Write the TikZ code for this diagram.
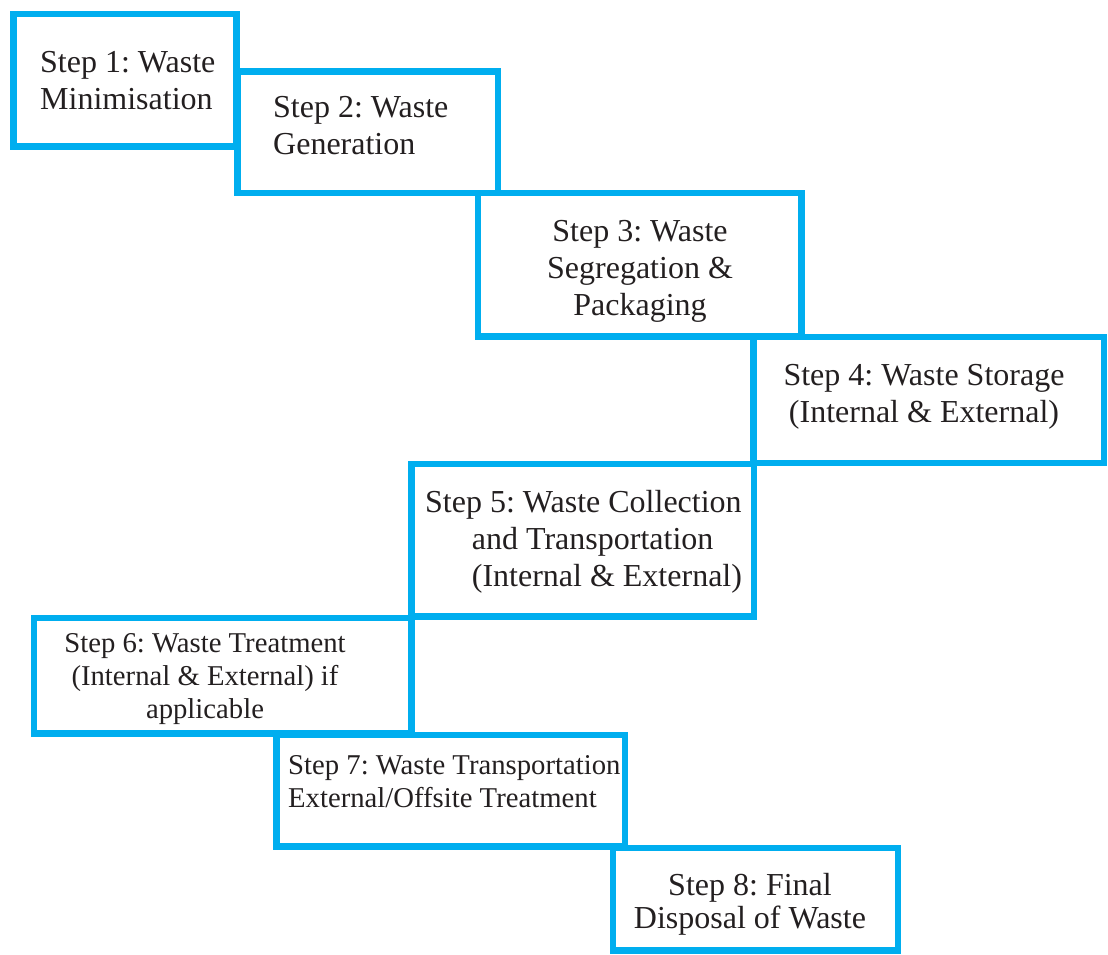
\documentclass[tikz,border=0pt]{standalone}
\usepackage{fontspec}
\setmainfont{Liberation Serif}
\frenchspacing
\definecolor{stepcyan}{RGB}{0,174,239}
\definecolor{txt}{RGB}{35,31,32}
\tikzset{
  stepbox/.style={draw=stepcyan, line width=6.5pt, inner sep=0pt, outer sep=0pt, rectangle},
  big/.style={font=\fontsize{32}{37}\selectfont, text=txt, inner sep=0pt},
  bigtight/.style={font=\fontsize{32}{33}\selectfont, text=txt, inner sep=0pt},
  small/.style={font=\fontsize{28.7}{33}\selectfont, text=txt, inner sep=0pt},
}
\begin{document}
\begin{tikzpicture}[x=1pt,y=-1pt]
\useasboundingbox (0,0) rectangle (1108,954);
\node[stepbox, minimum width=223pt, minimum height=132.5pt] (b1) at (125,80.25) {};
\node[stepbox, minimum width=260.5pt, minimum height=121.5pt] (b2) at (367.75,132.25) {};
\node[stepbox, minimum width=323.5pt, minimum height=143.5pt] (b3) at (639.75,264.75) {};
\node[stepbox, minimum width=350.5pt, minimum height=126pt] (b4) at (928.75,400) {};
\node[stepbox, minimum width=342.5pt, minimum height=152.5pt] (b5) at (582.75,540.25) {};
\node[stepbox, minimum width=377.5pt, minimum height=115.5pt] (b6) at (222.75,675.75) {};
\node[stepbox, minimum width=348.5pt, minimum height=111.5pt] (b7) at (450.75,790.75) {};
\node[stepbox, minimum width=285pt, minimum height=102.5pt] (b8) at (755.5,899.25) {};

\node[big, align=left, anchor=north west] (t1) at (40,51.1) {Step 1: Waste\\Minimisation};
\node[big, align=left, anchor=north west] (t2) at (273,96.4) {Step 2: Waste\\Generation};
\node[big, align=center, anchor=north] (t3) at (640,220.1) {Step 3: Waste\\Segregation \&\\Packaging};
\node[big, align=center, anchor=north] (t4) at (924,364.4) {Step 4: Waste Storage\\(Internal \& External)};
\node[big, align=left, anchor=north west] (t5) at (425,490.1) {Step 5: Waste Collection\\\hspace*{46.7pt}and Transportation\\\hspace*{46.7pt}(Internal \& External)};
\node[small, align=center, anchor=north] (t6) at (205,633.6) {Step 6: Waste Treatment\\(Internal \& External) if\\applicable};
\node[small, align=left, anchor=north west] (t7) at (288,755.6) {Step 7: Waste Transportation\\External/Offsite Treatment};
\node[bigtight, align=center, anchor=north] (t8) at (750,873.4) {Step 8: Final\\Disposal of Waste};
\end{tikzpicture}
\end{document}
